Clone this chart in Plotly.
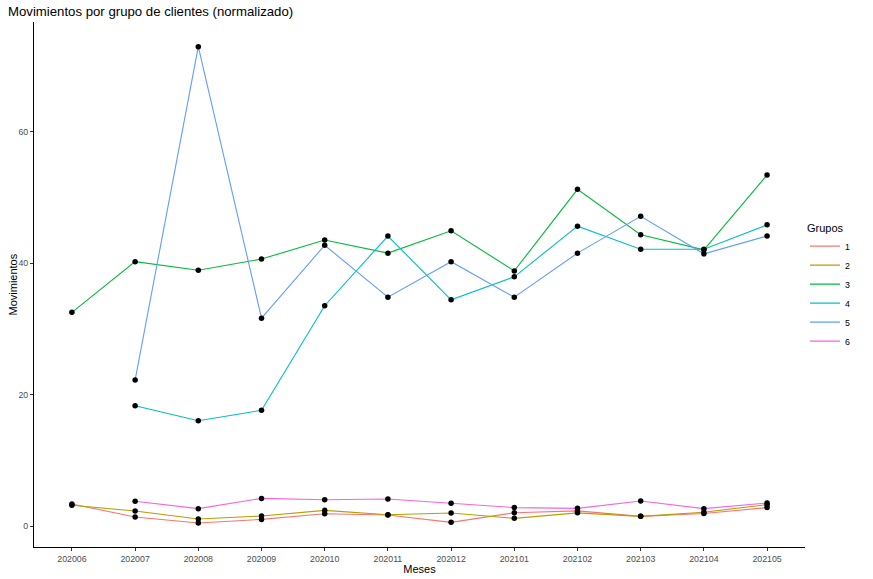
import plotly.graph_objects as go

meses = ["202006", "202007", "202008", "202009", "202010", "202011",
         "202012", "202101", "202102", "202103", "202104", "202105"]

g1 = [3.35, 1.37, 0.46, 1.01, 1.87, 1.67, 0.56, 2.03, 2.30, 1.47, 1.90, 2.80]
g2 = [3.15, 2.28, 1.06, 1.52, 2.38, 1.72, 1.98, 1.17, 2.00, 1.47, 2.10, 3.25]
g3 = [32.5, 40.2, 38.9, 40.6, 43.5, 41.5, 44.9, 38.8, 51.2, 44.3, 42.0, 53.4]
g4 = [None, 18.3, 16.0, 17.6, 33.5, 44.1, 34.4, 37.9, 45.6, 42.1, 42.1, 45.8]
g5 = [None, 22.2, 72.9, 31.6, 42.7, 34.8, 40.2, 34.8, 41.5, 47.1, 41.4, 44.1]
g6 = [None, 3.76, 2.64, 4.20, 4.00, 4.10, 3.45, 2.80, 2.69, 3.80, 2.64, 3.50]

grupos = ["1", "2", "3", "4", "5", "6"]
series = [g1, g2, g3, g4, g5, g6]
colores = ["#F8766D", "#B79F00", "#00BA38", "#00BFC4", "#619CFF", "#F564E3"]

fig = go.Figure()
for name, vals, col in zip(grupos, series, colores):
    xs = [m for m, v in zip(meses, vals) if v is not None]
    ys = [v for v in vals if v is not None]
    fig.add_trace(go.Scatter(x=xs, y=ys, mode="lines", name=name,
                             line=dict(color=col, width=1.1)))
for name, vals in zip(grupos, series):
    xs = [m for m, v in zip(meses, vals) if v is not None]
    ys = [v for v in vals if v is not None]
    fig.add_trace(go.Scatter(x=xs, y=ys, mode="markers", showlegend=False,
                             marker=dict(color="black", size=5.5)))

fig.update_layout(
    width=873, height=579,
    margin=dict(l=34, r=68, t=22, b=32, autoexpand=False),
    paper_bgcolor="white", plot_bgcolor="white",
    font=dict(family="Liberation Sans, Arial, sans-serif", color="black"),
    title=dict(text="Movimientos por grupo de clientes (normalizado)",
               x=8 / 873, xanchor="left", y=1 - 11 / 579, yanchor="middle",
               yref="container", xref="container",
               font=dict(size=13.2, color="black")),
    legend=dict(title=dict(text="Grupos", font=dict(size=11)),
                x=1.0, xanchor="left", y=0.628, yanchor="top",
                font=dict(size=8.8), tracegroupgap=0, itemwidth=30,
                bgcolor="rgba(0,0,0,0)"),
    showlegend=True,
    annotations=[dict(text="Movimientos", textangle=-90, showarrow=False,
                      xref="paper", yref="paper", x=(12 - 34) / 771, y=0.5,
                      xanchor="center", yanchor="middle",
                      font=dict(size=11, color="black"))],
)
fig.update_xaxes(type="category", categoryorder="array", categoryarray=meses,
                 range=[-0.6, 11.6], showgrid=False, zeroline=False,
                 automargin=False,
                 showline=True, linecolor="black", linewidth=1,
                 ticks="outside", ticklen=3, tickcolor="#333333",
                 tickfont=dict(size=8.8, color="#4D4D4D"),
                 title=dict(text="Meses", font=dict(size=11), standoff=2))
fig.update_yaxes(range=[-3.19, 76.65], tickvals=[0, 20, 40, 60],
                 showgrid=False, zeroline=False, automargin=False,
                 showline=True, linecolor="black", linewidth=1,
                 ticks="outside", ticklen=3, tickcolor="#333333",
                 tickfont=dict(size=8.8, color="#4D4D4D"))

fig.write_html("out.html", config={"displayModeBar": False},
               post_script="document.body.style.margin='0';document.body.style.overflow='hidden';")
